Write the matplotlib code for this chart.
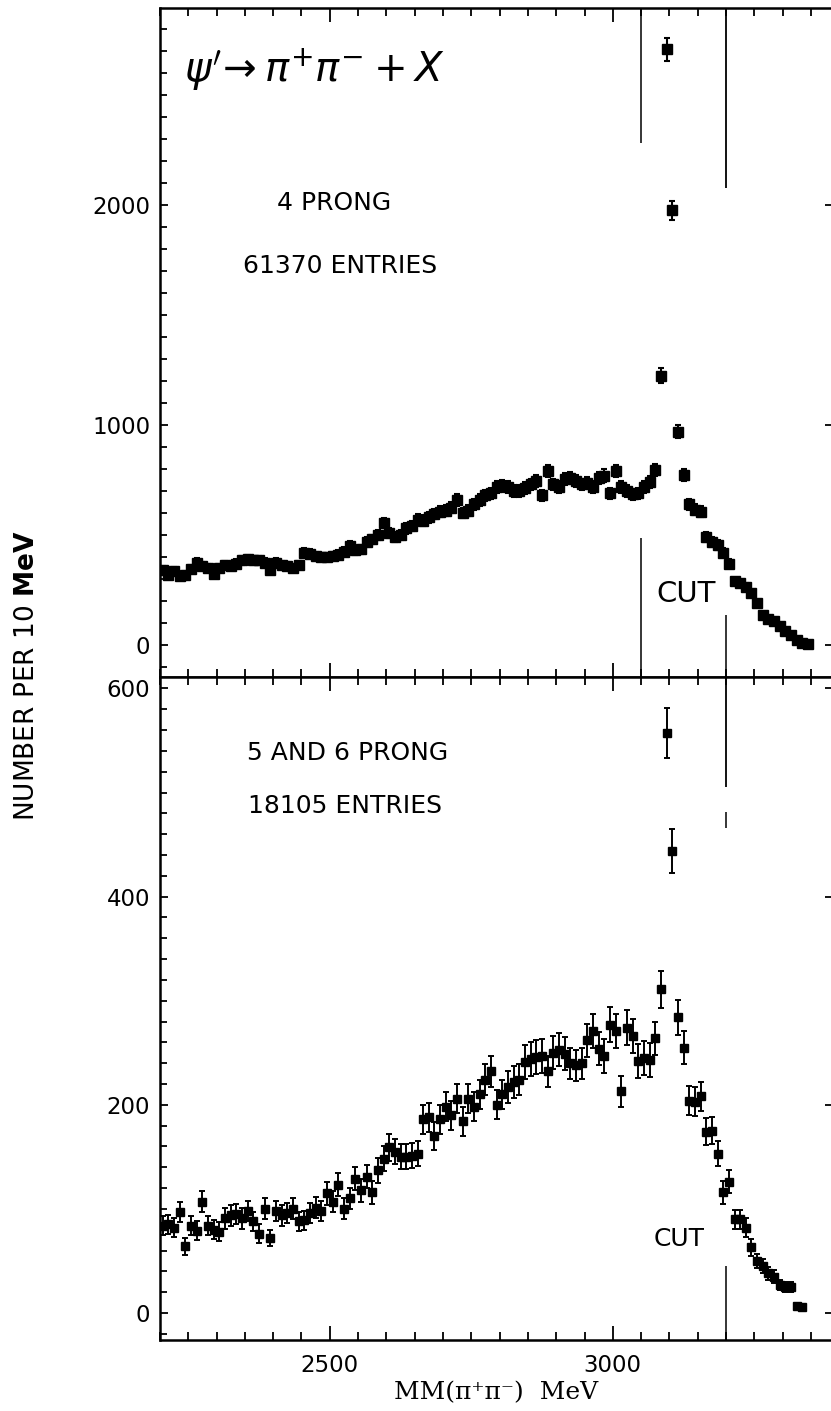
import numpy as np
import matplotlib.pyplot as plt
from matplotlib.ticker import MultipleLocator

plt.rcParams['font.family'] = ['DejaVu Sans']
plt.rcParams['mathtext.fontset'] = 'dejavusans'

# counts per 10 MeV bin, first bin centred at 2205 MeV
bin_start = 2205
bin_width = 10

# 4 prong
top_counts = [340, 320, 335, 315, 320, 345, 375, 360, 350, 325,
              350, 365, 360, 370, 385, 390, 385, 385, 375, 340,
              375, 365, 360, 350, 365, 420, 415, 405, 400, 400,
              405, 410, 425, 450, 430, 435, 470, 480, 500, 555,
              510, 490, 500, 530, 540, 570, 565, 580, 595, 605,
              610, 625, 660, 600, 610, 640, 660, 680, 690, 720,
              725, 720, 700, 700, 715, 730, 745, 680, 790, 730,
              720, 755, 760, 745, 730, 735, 720, 760, 770, 690,
              790, 720, 700, 685, 690, 720, 740, 795,
              1225, 2708, 1975, 970, 773, 640, 615, 605, 490, 470,
              455, 420, 370, 290, 280, 265, 235, 190, 135, 120,
              110, 85, 65, 45, 25, 10, 5]
top_errors = [18, 18, 18, 18, 18, 19, 19, 19, 19, 18,
              19, 19, 19, 19, 20, 20, 20, 20, 19, 18,
              19, 19, 19, 19, 19, 20, 20, 20, 20, 20,
              20, 20, 21, 21, 21, 21, 22, 22, 22, 24,
              23, 22, 22, 23, 23, 24, 24, 24, 24, 25,
              25, 25, 26, 24, 25, 25, 26, 26, 26, 27,
              27, 27, 26, 26, 27, 27, 27, 26, 28, 27,
              27, 27, 28, 27, 27, 27, 27, 28, 28, 26,
              28, 27, 26, 26, 26, 27, 27, 28,
              35, 52, 44, 31, 28, 25, 25, 25, 22, 22,
              21, 20, 19, 17, 17, 16, 15, 14, 12, 11,
              10, 9, 8, 7, 5, 3, 2]

# 5 and 6 prong
bot_counts = [84, 85, 82, 97, 64, 84, 79, 107, 84, 80,
              78, 91, 94, 95, 91, 98, 88, 76, 100, 72,
              98, 94, 96, 100, 88, 89, 96, 101, 98, 115,
              107, 123, 100, 110, 129, 118, 131, 116, 137, 148,
              159, 155, 150, 150, 151, 153, 186, 188, 170, 186,
              198, 190, 206, 184, 206, 198, 210, 224, 232, 200,
              210, 217, 222, 224, 241, 244, 246, 247, 232, 250,
              253, 249, 240, 238, 240, 262, 271, 254, 247, 277,
              271, 213, 274, 266, 242, 245, 243, 264,
              311, 557, 444, 284, 255, 204, 203, 208, 174, 175,
              153, 116, 126, 90, 90, 82, 63, 50, 45, 38,
              35, 27, 25, 25, 7, 6]
bot_errors = [9, 9, 9, 10, 8, 9, 9, 10, 9, 9,
              9, 10, 10, 10, 10, 10, 9, 9, 10, 8,
              10, 10, 10, 10, 9, 9, 10, 10, 10, 11,
              10, 11, 10, 10, 11, 11, 11, 11, 12, 12,
              13, 12, 12, 12, 12, 12, 14, 14, 13, 14,
              14, 14, 14, 14, 14, 14, 14, 15, 15, 14,
              14, 15, 15, 15, 16, 16, 16, 16, 15, 16,
              16, 16, 15, 15, 15, 16, 16, 16, 16, 17,
              16, 15, 17, 16, 16, 16, 16, 16,
              18, 24, 21, 17, 16, 14, 14, 14, 13, 13,
              12, 11, 11, 9, 9, 9, 8, 7, 7, 6,
              6, 5, 5, 5, 3, 2]

cut_lines = [3050, 3200]

top_x = bin_start + bin_width * np.arange(len(top_counts))
bot_x = bin_start + bin_width * np.arange(len(bot_counts))

fig = plt.figure(figsize=(8.31, 14.11), dpi=100)
ax1 = fig.add_axes([0.1925, 0.5202, 0.8099, 0.4741])
ax2 = fig.add_axes([0.1925, 0.0503, 0.8099, 0.4699])

ax1.errorbar(top_x, top_counts, yerr=top_errors, fmt='s', color='black',
             ms=6.5, elinewidth=1.5, capsize=2.2, capthick=1.5)
ax2.errorbar(bot_x, bot_counts, yerr=bot_errors, fmt='s', color='black',
             ms=5.2, elinewidth=1.4, capsize=2.3, capthick=1.4)


def style_axis(ax, ymajor, yminor):
    ax.set_xlim(2200, 3389)
    ax.xaxis.set_major_locator(MultipleLocator(500))
    ax.xaxis.set_minor_locator(MultipleLocator(50))
    ax.yaxis.set_major_locator(MultipleLocator(ymajor))
    ax.yaxis.set_minor_locator(MultipleLocator(yminor))
    ax.tick_params(axis='x', which='both', direction='in', top=True, bottom=True, width=1.3)
    ax.tick_params(axis='x', which='major', length=10, pad=10)
    ax.tick_params(axis='x', which='minor', length=6)
    ax.tick_params(axis='y', which='major', direction='in', left=True, right=True,
                   length=6, width=1.3, pad=7)
    ax.tick_params(axis='y', which='minor', direction='in', left=True, right=False,
                   length=5, width=1.3)
    ax.tick_params(labelsize=16.5)
    for s in ax.spines.values():
        s.set_linewidth(1.8)


style_axis(ax1, 1000, 100)
style_axis(ax2, 200, 20)
ax1.set_ylim(-145, 2895)
ax2.set_ylim(-26, 611)
ax1.tick_params(labelbottom=False)

# cut lines
ax1.vlines(cut_lines[0], 2282, 2895, color='black', lw=1.1)
ax1.vlines(cut_lines[0], -145, 486, color='black', lw=1.1)
ax1.vlines(cut_lines[1], 2077, 2895, color='black', lw=1.3)
ax1.vlines(cut_lines[1], -145, 136, color='black', lw=1.1)
ax2.vlines(cut_lines[1], 505, 611, color='black', lw=1.3)
ax2.vlines(cut_lines[1], 466, 481, color='black', lw=1.1)
ax2.vlines(cut_lines[1], -26, 45, color='black', lw=1.1)

ax1.text(2242, 2559, r"$\psi'\!\rightarrow\pi^{+}\pi^{-}+X$", fontsize=29, ha='left', va='baseline')
ax1.text(2507, 1977, "4 PRONG", fontsize=18, ha='center', va='baseline')
ax1.text(2519, 1689, "61370 ENTRIES", fontsize=18, ha='center', va='baseline')
ax1.text(3129, 195, "CUT", fontsize=21, ha='center', va='baseline')

ax2.text(2532, 531, "5 AND 6 PRONG", fontsize=18, ha='center', va='baseline')
ax2.text(2527, 480, "18105 ENTRIES", fontsize=18, ha='center', va='baseline')
ax2.text(3117, 64, "CUT", fontsize=18, ha='center', va='baseline')

fig.text(27 / 831, 1 - 675.5 / 1411, r"NUMBER PER 10 $\mathbf{MeV}$", rotation=90,
         fontsize=19, ha='center', va='center')
fig.text(496 / 831, 1 - 1393 / 1411, "MM(π⁺π⁻)  MeV", fontsize=18,
         family='DejaVu Serif', ha='center', va='center')

fig.savefig('out.png', dpi=100)
